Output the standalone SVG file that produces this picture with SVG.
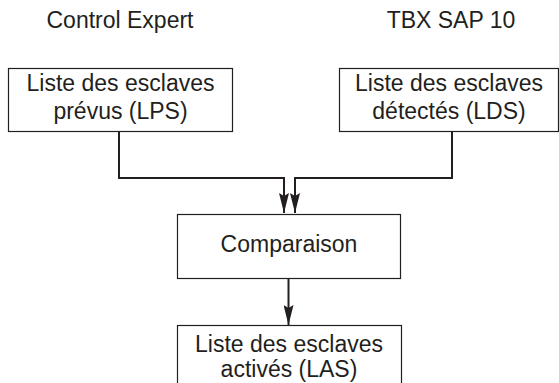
<svg xmlns="http://www.w3.org/2000/svg" width="559" height="383" viewBox="0 0 559 383">
  <style>
    .box { fill: #ffffff; stroke: #231f20; stroke-width: 1.2; }
    .t { font-family: "Liberation Sans", Arial, sans-serif; font-size: 23px; fill: #231f20; text-anchor: middle; }
    .conn { fill: none; stroke: #231f20; stroke-width: 2; }
  </style>
  <defs>
    <marker id="ah" viewBox="0 0 20 10" refX="20" refY="5" markerWidth="20" markerHeight="10" markerUnits="userSpaceOnUse" orient="auto">
      <path d="M0,0 L20,5 L0,10 L3,5 Z" fill="#231f20"/>
    </marker>
  </defs>
  <rect width="559" height="383" fill="#ffffff"/>
  <g id="label-control-expert"><text class="t" x="120" y="28">Control Expert</text></g>
  <g id="label-tbx"><text class="t" x="451" y="28">TBX SAP 10</text></g>
  <g id="lps">
    <rect class="box" x="8.5" y="68.5" width="224" height="63"/>
    <text class="t" x="120.5" y="91">Liste des esclaves</text>
    <text class="t" x="120.5" y="119">prévus (LPS)</text>
  </g>
  <g id="lds">
    <rect class="box" x="339.5" y="68.5" width="219" height="63"/>
    <text class="t" x="449" y="91">Liste des esclaves</text>
    <text class="t" x="449" y="119">détectés (LDS)</text>
  </g>
  <g id="comparaison">
    <rect class="box" x="177.5" y="214.5" width="223" height="64"/>
    <text class="t" x="289" y="252">Comparaison</text>
  </g>
  <g id="las">
    <rect class="box" x="177.5" y="325.5" width="224" height="70"/>
    <text class="t" x="289" y="352">Liste des esclaves</text>
    <text class="t" x="289" y="377">activés (LAS)</text>
  </g>
  <g id="connectors">
    <path class="conn" d="M119,131 V178 H284 V213" marker-end="url(#ah)"/>
    <path class="conn" d="M452,131 V178 H295 V213" marker-end="url(#ah)"/>
    <path class="conn" d="M288.5,278 V325" marker-end="url(#ah)"/>
  </g>
</svg>
